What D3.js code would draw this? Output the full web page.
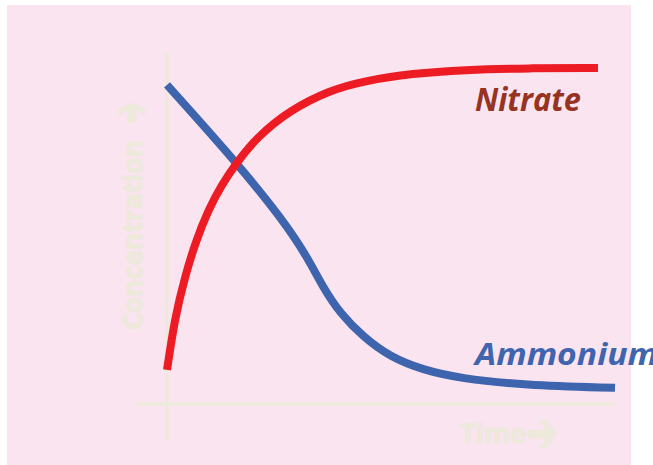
<!DOCTYPE html>
<html>
<head>
<meta charset="utf-8">
<script src="https://cdn.jsdelivr.net/npm/d3@7/dist/d3.min.js"></script>
<style>
  html, body { margin: 0; padding: 0; background: #ffffff; }
  svg { display: block; }
</style>
</head>
<body>
<svg id="chart" width="653" height="465"></svg>
<script>
// ---- data (time in arbitrary units 0..10, concentration 0..100) ----
const nitrateTime  = [0, 0.18, 0.40, 0.63, 0.92, 1.23, 1.52, 2.01, 2.75, 3.64, 4.38, 5.49, 6.61, 8.10, 9.62];
const nitrateConc  = [9.7, 24.8, 36.2, 45.9, 55.3, 62.6, 68.2, 76.1, 83.8, 89.4, 92.0, 94.2, 95.2, 95.7, 95.7];
const ammoniumTime = [0, 1.56, 2.59, 3.13, 3.48, 3.86, 4.38, 4.98, 5.71, 6.54, 7.95, 10.0];
const ammoniumConc = [90.9, 68.7, 52.4, 41.9, 33.3, 25.9, 19.1, 13.4, 9.7, 7.3, 5.4, 4.6];
const seriesNames  = ["Nitrate", "Ammonium"];
const axisWords    = ["Concentration", "Time"];
const axisArrow    = "\u2794";

const svg = d3.select("#chart");

// background panel
svg.append("rect")
  .attr("x", 7).attr("y", 5).attr("width", 624).attr("height", 465)
  .attr("fill", "#f9e4ef");

const x = d3.scaleLinear().domain([0, 10]).range([167, 615]);
const y = d3.scaleLinear().domain([0, 100]).range([404, 53]);

const axisColor = "#ede9db";

// axes (plain lines, no ticks)
svg.append("line")
  .attr("x1", x(0)).attr("x2", x(0))
  .attr("y1", y(100)).attr("y2", y(-10.5))
  .attr("stroke", axisColor).attr("stroke-width", 3);
svg.append("line")
  .attr("x1", x(-0.7)).attr("x2", x(10))
  .attr("y1", y(0)).attr("y2", y(0))
  .attr("stroke", axisColor).attr("stroke-width", 3);

// word of an axis title, scaled to a target length
function axisWord(transform, word, wordLen) {
  const t = svg.append("text")
    .attr("transform", transform)
    .attr("font-family", "Open Sans, DejaVu Sans, sans-serif")
    .attr("font-weight", "bold")
    .attr("font-size", 30)
    .attr("fill", axisColor)
    .attr("stroke", axisColor)
    .attr("stroke-width", 0.9)
    .text(word);
  const base = t.node().getComputedTextLength();
  t.attr("font-size", 30 * wordLen / base);
  return t;
}
// arrow glyph fitted into a box (w x h, centred at cx, cy), rotated by rot
function axisArrowGlyph(cx, cy, w, h, rot) {
  const g = svg.append("g");
  const t = g.append("text")
    .attr("font-family", "DejaVu Sans, sans-serif")
    .attr("font-weight", "bold")
    .attr("font-size", 40)
    .attr("fill", axisColor)
    .attr("stroke", axisColor)
    .attr("stroke-width", 1.5)
    .attr("text-anchor", "middle")
    .attr("dominant-baseline", "central")
    .text(axisArrow);
  const b = t.node().getBBox();
  const sx = w / b.width, sy = h / (b.height * 0.4);
  t.attr("transform", `scale(${sx},${sy})`);
  g.attr("transform", `translate(${cx},${cy}) rotate(${rot})`);
}

// y title: baseline at x=142, starts at y=330, reads upward
axisWord("translate(142, 330) rotate(-90)", axisWords[0], 190);
axisArrowGlyph(130, 113, 22, 24, -90);
// x title
axisWord("translate(460, 443)", axisWords[1], 66);
axisArrowGlyph(542, 432, 30, 25, 0);

// lines
const line = d3.line()
  .x(d => x(d[0]))
  .y(d => y(d[1]))
  .curve(d3.curveBasis);

const nitrate = nitrateTime.map((t, i) => [t, nitrateConc[i]]);
const ammonium = ammoniumTime.map((t, i) => [t, ammoniumConc[i]]);

svg.append("path")
  .datum(ammonium)
  .attr("d", line)
  .attr("fill", "none")
  .attr("stroke", "#3f64ae")
  .attr("stroke-width", 8);

svg.append("path")
  .datum(nitrate)
  .attr("d", line)
  .attr("fill", "none")
  .attr("stroke", "#ed1c24")
  .attr("stroke-width", 8);

// series labels
svg.append("text")
  .attr("x", 475).attr("y", 111)
  .attr("font-family", "Open Sans, DejaVu Sans, sans-serif")
  .attr("font-weight", "bold")
  .attr("font-style", "italic")
  .attr("font-size", 33)
  .attr("fill", "#963322")
  .attr("textLength", 106).attr("lengthAdjust", "spacingAndGlyphs")
  .text(seriesNames[0]);

svg.append("text")
  .attr("x", 475).attr("y", 365)
  .attr("font-family", "Open Sans, DejaVu Sans, sans-serif")
  .attr("font-weight", "bold")
  .attr("font-style", "italic")
  .attr("font-size", 31)
  .attr("fill", "#4064ae")
  .attr("textLength", 183).attr("lengthAdjust", "spacingAndGlyphs")
  .text(seriesNames[1]);
</script>
</body>
</html>
